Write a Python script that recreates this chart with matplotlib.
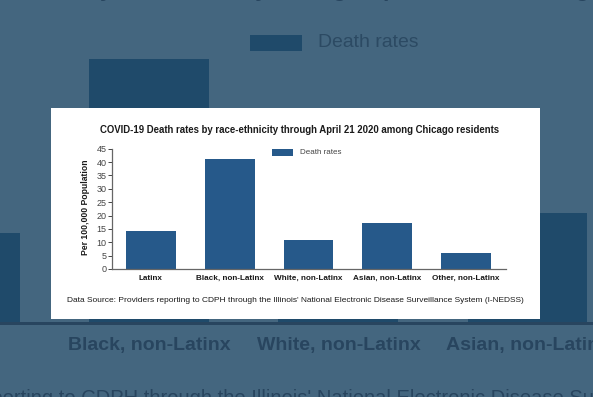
import matplotlib.pyplot as plt
from matplotlib.patches import Rectangle

# Données
categories = ["Latinx", "Black, non-Latinx", "White, non-Latinx", "Asian, non-Latinx", "Other, non-Latinx"]
death_rates = [14.1, 41.2, 10.7, 17.2, 6.0]
y_ticks = [0, 5, 10, 15, 20, 25, 30, 35, 40, 45]
title = "COVID-19 Death rates by race-ethnicity through April 21 2020 among Chicago residents"
source = "Data Source: Providers reporting to CDPH through the Illinois' National Electronic Disease Surveillance System (I-NEDSS)"

W, H = 593, 397
plt.rcParams["font.family"] = ["Liberation Sans", "DejaVu Sans"]
fig = plt.figure(figsize=(W / 100, H / 100), dpi=100)
fig.patch.set_facecolor("#44667f")


def px(x, y):
    # pixels (origine en haut à gauche) -> coordonnées figure
    return x / W, 1 - y / H


def draw_chart(s, ox, oy, z, bar_col, txt_col, axis_col, tick_col):
    # s : facteur d'échelle, (ox, oy) : décalage en pixels
    def P(x, y):
        return px(x * s + ox, y * s + oy)

    l, t = P(111.5, 148.7)
    r, b = P(505.5, 269)
    ax = fig.add_axes([l, b, r - l, t - b], zorder=z)
    ax.set_facecolor("none")
    ax.bar(range(len(categories)), death_rates, width=0.634, color=bar_col)
    ax.set_xlim(-0.5, len(categories) - 0.5)
    ax.set_ylim(0, 45)
    ax.set_yticks(y_ticks)
    ax.set_xticks(range(len(categories)))
    ax.set_xticklabels(categories, fontweight="bold", fontsize=5.85 * s, color=txt_col)
    ax.tick_params(axis="x", length=0, pad=4.3 * s)
    ax.tick_params(axis="y", length=3 * s, width=0.7 * s, pad=0.6 * s,
                   labelsize=6.5 * s, colors=tick_col)
    for side in ["top", "right"]:
        ax.spines[side].set_visible(False)
    for side in ["left", "bottom"]:
        ax.spines[side].set_color(axis_col)
        ax.spines[side].set_linewidth(0.9 * s)

    fig.text(*P(300, 130), title, ha="center", va="center", fontsize=6.9 * s,
             fontweight="bold", color=txt_col, zorder=z + 0.5)
    fig.text(*P(85, 207), "Per 100,000 Population", ha="center", va="center", rotation=90,
             fontsize=6.2 * s, fontweight="bold", color=txt_col, zorder=z + 0.5)
    fig.text(*P(295, 300.5), source, ha="center", va="center", fontsize=6.05 * s,
             color=txt_col, zorder=z + 0.5)

    # légende
    lx, ly = P(271.7, 155.7)
    lx2, ly2 = P(293.3, 149)
    fig.add_artist(Rectangle((lx, ly), lx2 - lx, ly2 - ly, transform=fig.transFigure,
                             facecolor=bar_col, edgecolor="none", zorder=z + 0.5))
    fig.text(*P(300, 152), "Death rates", ha="left", va="center", fontsize=5.8 * s,
             color=tick_col, zorder=z + 0.5)


# Graphique agrandi en arrière-plan (assombri)
draw_chart(2.4, -402, -322.6, 0, "#1f4a6a", "#28455f", "#28455f", "#2c4a63")

# Panneau blanc
pl, pt = px(51, 108)
pr, pb = px(540, 319)
panel = fig.add_axes([pl, pb, pr - pl, pt - pb], zorder=2)
panel.set_facecolor("white")
panel.set_xticks([])
panel.set_yticks([])
for sp in panel.spines.values():
    sp.set_visible(False)

# Graphique principal
draw_chart(1, 0, 0, 3, "#26598a", "#1a1a1a", "#666666", "#444444")

fig.savefig("out.png", dpi=100)
